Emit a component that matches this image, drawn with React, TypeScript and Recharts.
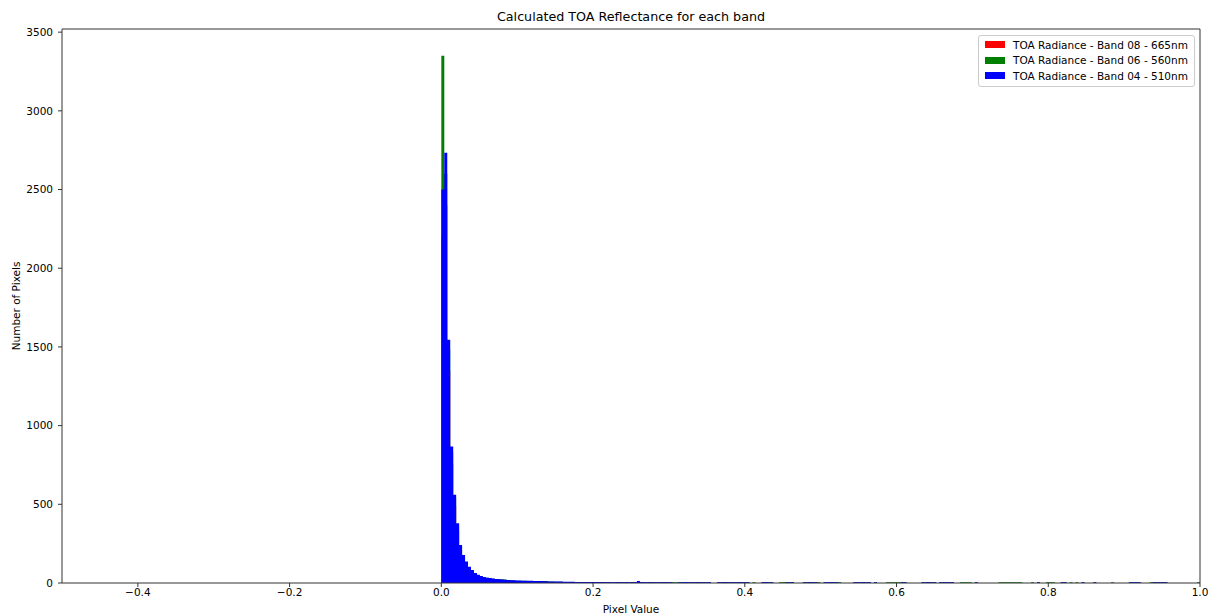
import {
  ComposedChart,
  Area,
  XAxis,
  YAxis,
  Legend,
  ReferenceArea,
} from "recharts"

const TITLE = "Calculated TOA Reflectance for each band"
const X_LABEL = "Pixel Value"
const Y_LABEL = "Number of Pixels"

const X_TICKS = [-0.4, -0.2, 0.0, 0.2, 0.4, 0.6, 0.8, 1.0]
const Y_TICKS = [0, 500, 1000, 1500, 2000, 2500, 3000, 3500]

/** 256 equal bins across 0..1 */
const BINS = 256

const SERIES = [
  { key: "red", label: "TOA Radiance - Band 08 - 665nm", color: "#ff0000" },
  { key: "green", label: "TOA Radiance - Band 06 - 560nm", color: "#008000" },
  { key: "blue", label: "TOA Radiance - Band 04 - 510nm", color: "#0000ff" },
]

// bins 0..53
const blueHead = [
  2500, 2733, 1546, 867, 560, 380, 242, 178, 136, 104,
  83, 64, 52, 44, 38, 34, 31, 28, 26, 24,
  22, 20, 19, 18, 17, 16, 16, 15, 15, 14,
  14, 13, 12, 12, 11, 11, 10, 10, 9, 9,
  9, 8, 8, 8, 8, 7, 7, 7, 7, 6,
  6, 6, 6, 6,
]
const greenHead = [
  3350, 2600, 1480, 830, 540, 365, 232, 170, 130, 100,
  80, 62, 50, 43, 37, 33, 30, 27, 25, 26,
  24, 22, 18, 17, 16, 15, 15, 14, 14, 13,
  13, 12, 11, 11, 13, 13, 9, 9, 8, 8,
  8, 7, 7, 7, 7, 6, 6, 6, 6, 5,
  5, 5, 5, 5,
]
const redHead = [
  2200, 2400, 1350, 760, 490, 330, 210, 155, 118, 90,
  72, 55, 45, 38, 33, 29, 26, 24, 22, 20,
  18, 17, 16, 15, 14, 13, 13, 12, 12, 11,
]

// bins 54..255, the long flat tail
const blueTail = [
  6, 5, 6, 5, 5, 6, 5, 5, 6, 5,
  5, 6, 12, 6, 5, 5, 6, 5, 5, 5,
  5, 6, 5, 5, 0, 0, 5, 5, 6, 5,
  5, 5, 6, 5, 5, 5, 5, 0, 0, 5,
  5, 6, 5, 5, 5, 5, 6, 5, 5, 5,
  0, 0, 0, 0, 5, 6, 5, 5, 0, 0,
  0, 0, 5, 5, 5, 0, 0, 0, 5, 5,
  6, 5, 5, 0, 0, 5, 5, 6, 5, 5,
  0, 0, 0, 0, 0, 5, 5, 5, 6, 5,
  5, 0, 5, 0, 0, 0, 0, 0, 0, 0,
  0, 5, 5, 0, 0, 0, 0, 0, 5, 5,
  6, 5, 5, 0, 5, 5, 5, 5, 5, 0,
  0, 0, 0, 0, 0, 0, 5, 0, 0, 0,
  0, 0, 0, 0, 0, 0, 0, 0, 0, 0,
  0, 0, 0, 0, 0, 0, 0, 5, 0, 0,
  0, 0, 0, 0, 0, 5, 5, 0, 0, 0,
  0, 0, 5, 0, 0, 0, 5, 0, 0, 0,
  0, 0, 0, 0, 0, 0, 0, 0, 5, 5,
  5, 5, 0, 0, 0, 0, 5, 5, 5, 5,
  5, 0, 0, 0, 0, 0, 0, 0, 0, 0,
  0, 0,
]
const greenTail = [
  7, 5, 5, 5, 5, 7, 7, 5, 5, 5,
  7, 5, 10, 5, 5, 5, 5, 5, 5, 5,
  7, 5, 5, 5, 5, 5, 5, 5, 5, 5,
  7, 5, 5, 5, 5, 5, 5, 0, 0, 5,
  5, 5, 7, 5, 5, 5, 5, 5, 5, 5,
  0, 5, 0, 0, 5, 5, 5, 5, 0, 0,
  5, 5, 5, 5, 5, 0, 0, 0, 5, 5,
  5, 5, 5, 5, 0, 5, 5, 5, 5, 5,
  5, 0, 0, 0, 0, 5, 5, 5, 5, 5,
  5, 0, 5, 0, 0, 0, 5, 5, 5, 5,
  5, 5, 5, 0, 0, 0, 0, 0, 5, 5,
  5, 5, 5, 0, 5, 5, 5, 5, 5, 0,
  0, 5, 5, 5, 5, 0, 5, 0, 0, 0,
  0, 0, 0, 0, 5, 5, 5, 5, 5, 5,
  5, 5, 0, 0, 0, 5, 0, 5, 0, 0,
  5, 5, 5, 0, 0, 5, 5, 0, 5, 0,
  5, 0, 5, 0, 0, 0, 5, 0, 0, 0,
  0, 0, 5, 0, 0, 0, 0, 0, 5, 5,
  5, 5, 0, 0, 0, 5, 5, 5, 5, 5,
  5, 0, 0, 0, 0, 0, 0, 0, 0, 0,
  0, 5,
]

const blueVals = [...blueHead, ...blueTail]
const greenVals = [...greenHead, ...greenTail]
const redVals = redHead

// one point per bin left edge, plus the closing edge at 1.0
const table = Array.from({ length: BINS + 1 }, (_, i) => ({
  x: i / BINS,
  red: redVals[i] ?? 0,
  green: greenVals[i] ?? 0,
  blue: blueVals[i] ?? 0,
}))

const FONT = "'DejaVu Sans', sans-serif"
const tickStyle = { fill: "#000", fontSize: 10.5, fontFamily: FONT }

const fmtX = (v: number) => v.toFixed(1).replace("-", "\u2212")

function LegendBox() {
  return (
    <div
      style={{
        background: "rgba(255,255,255,0.8)",
        border: "1px solid #cccccc",
        borderRadius: 3,
        padding: "1px 6px 2px 6px",
        fontFamily: FONT,
        fontSize: 10.5,
        color: "#000",
      }}
    >
      {SERIES.map((s) => (
        <div
          key={s.key}
          style={{ display: "flex", alignItems: "center", height: 15.5 }}
        >
          <span
            style={{
              display: "inline-block",
              width: 20,
              height: 7,
              background: s.color,
              marginRight: 8,
            }}
          />
          <span>{s.label}</span>
        </div>
      ))}
    </div>
  )
}

export default function App() {
  return (
    <div
      style={{
        position: "absolute",
        left: 0,
        top: 0,
        width: 1219,
        height: 616,
        background: "#fff",
        fontFamily: FONT,
      }}
    >
      <div
        style={{
          position: "absolute",
          left: 62,
          width: 1138,
          top: 9,
          textAlign: "center",
          fontSize: 12.7,
          color: "#000",
        }}
      >
        {TITLE}
      </div>
      <ComposedChart
        width={1219}
        height={616}
        data={table}
        margin={{ top: 29, right: 19, bottom: 0, left: 0 }}
      >
        <XAxis
          dataKey="x"
          type="number"
          domain={[-0.5, 1]}
          ticks={X_TICKS}
          allowDataOverflow
          height={33}
          tickSize={4}
          tickMargin={2}
          axisLine={false}
          tickLine={{ stroke: "#333" }}
          tick={tickStyle}
          tickFormatter={fmtX}
          label={{
            value: X_LABEL,
            position: "insideBottom",
            offset: 3,
            style: { fill: "#000", fontSize: 10.5, fontFamily: FONT },
          }}
        />
        <YAxis
          type="number"
          domain={[0, 3520]}
          ticks={Y_TICKS}
          allowDataOverflow
          width={62}
          tickSize={4}
          tickMargin={5}
          axisLine={false}
          tickLine={{ stroke: "#333" }}
          tick={tickStyle}
          label={{
            value: Y_LABEL,
            angle: -90,
            position: "insideLeft",
            offset: 16,
            style: {
              fill: "#000",
              fontSize: 10.5,
              fontFamily: FONT,
              textAnchor: "middle",
            },
          }}
        />
        {SERIES.map((s) => (
          <Area
            key={s.key}
            type="stepAfter"
            dataKey={s.key}
            name={s.label}
            fill={s.color}
            fillOpacity={1}
            stroke="none"
            dot={false}
            activeDot={false}
            isAnimationActive={false}
          />
        ))}
        <ReferenceArea
          x1={-0.5}
          x2={1}
          y1={0}
          y2={3520}
          fill="none"
          fillOpacity={0}
          stroke="#333"
          strokeWidth={1}
          ifOverflow="visible"
        />
        <Legend
          layout="vertical"
          align="center"
          verticalAlign="middle"
          wrapperStyle={{ left: 978, top: 35, width: "auto", height: "auto" }}
          content={() => <LegendBox />}
        />
      </ComposedChart>
    </div>
  )
}
